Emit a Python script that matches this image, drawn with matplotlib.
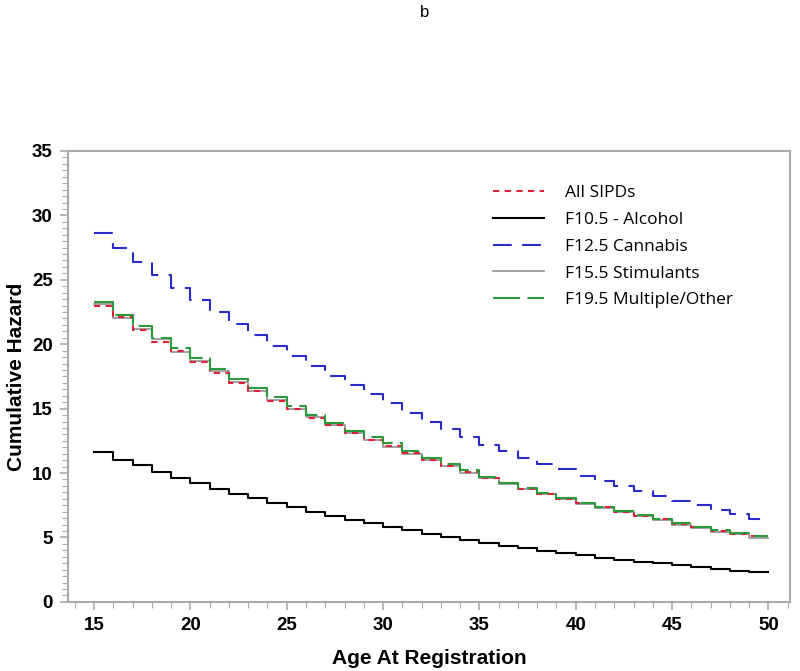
import numpy as np
import matplotlib
matplotlib.use("Agg")
from matplotlib import pyplot as plt
from matplotlib.ticker import MultipleLocator

plt.rcParams['font.family'] = ['Liberation Sans', 'DejaVu Sans']

ages = list(range(15, 51))

# cumulative hazard per year of age at registration (15..49), last value held to 50
all_sipds = [23.0, 22.1, 21.1, 20.2, 19.5, 18.6, 17.8, 17.0, 16.4, 15.6,
             14.95, 14.3, 13.7, 13.1, 12.6, 12.1, 11.55, 11.0, 10.55, 10.1,
             9.65, 9.2, 8.8, 8.4, 8.0, 7.65, 7.35, 7.0, 6.7, 6.4,
             6.05, 5.8, 5.5, 5.3, 5.1]
alcohol = [11.6, 11.0, 10.6, 10.1, 9.6, 9.2, 8.8, 8.4, 8.05, 7.65,
           7.35, 7.0, 6.7, 6.35, 6.1, 5.85, 5.6, 5.3, 5.0, 4.8,
           4.6, 4.35, 4.15, 3.97, 3.8, 3.63, 3.42, 3.27, 3.13, 2.98,
           2.85, 2.72, 2.55, 2.42, 2.3]
cannabis = [28.6, 27.5, 26.4, 25.4, 24.4, 23.4, 22.5, 21.6, 20.7, 19.9,
            19.1, 18.3, 17.5, 16.8, 16.1, 15.4, 14.7, 14.0, 13.4, 12.8,
            12.2, 11.7, 11.2, 10.7, 10.3, 9.8, 9.4, 9.0, 8.6, 8.2,
            7.8, 7.5, 7.1, 6.8, 6.45]
stimulants = [23.1, 22.0, 21.2, 20.4, 19.4, 18.7, 17.9, 17.1, 16.35, 15.7,
              15.0, 14.35, 13.7, 13.1, 12.6, 12.0, 11.5, 11.0, 10.55, 10.0,
              9.6, 9.15, 8.75, 8.35, 7.95, 7.6, 7.3, 6.95, 6.65, 6.35,
              6.0, 5.75, 5.45, 5.25, 4.95]
multiple = [23.3, 22.3, 21.4, 20.5, 19.7, 18.9, 18.1, 17.3, 16.6, 15.9,
            15.2, 14.5, 13.9, 13.3, 12.8, 12.3, 11.7, 11.2, 10.7, 10.2,
            9.7, 9.25, 8.85, 8.45, 8.05, 7.7, 7.4, 7.05, 6.75, 6.45,
            6.1, 5.85, 5.55, 5.35, 5.15]

labels = ['All SIPDs', 'F10.5 - Alcohol', 'F12.5 Cannabis',
          'F15.5 Stimulants', 'F19.5 Multiple/Other']

fig = plt.figure(figsize=(8, 6.71), dpi=100)
ax = fig.add_axes([0.085, 0.103, 0.903, 0.672])

def hold(v):
    return list(v) + [v[-1]]

ax.step(ages, hold(stimulants), where='post', color='#9a9a9a', lw=1.3, label=labels[3], zorder=2)
ax.step(ages, hold(all_sipds), where='post', color='#e0203a', lw=1.5,
        dashes=(3, 2.6), label=labels[0], zorder=3)
ax.step(ages, hold(multiple), where='post', color='#2a9a3a', lw=1.5,
        dashes=(13, 3.5), label=labels[4], zorder=4)
ax.step(ages, hold(alcohol), where='post', color='black', lw=1.5, label=labels[1], zorder=3)
ax.step(ages, hold(cannabis), where='post', color='#2a2ac8', lw=1.5,
        dashes=(9, 5), label=labels[2], zorder=3)

ax.set_xlim(13.65, 51.14)
ax.set_ylim(0, 35)
ax.xaxis.set_major_locator(MultipleLocator(5))
ax.xaxis.set_minor_locator(MultipleLocator(1))
ax.yaxis.set_major_locator(MultipleLocator(5))
ax.yaxis.set_minor_locator(MultipleLocator(0.5))
for s in ax.spines.values():
    s.set_color('#aaaaaa')
    s.set_linewidth(1.5)
ax.tick_params(which='both', direction='out', color='#aaaaaa')
ax.tick_params(which='major', length=6, width=1.2, labelsize=13.5, pad=5)
ax.tick_params(which='minor', length=4, width=0.8)
for t in ax.get_xticklabels() + ax.get_yticklabels():
    t.set_fontweight('bold')

ax.set_xlabel('Age At Registration', fontsize=15, fontweight='bold', labelpad=11)
ax.set_ylabel('Cumulative Hazard', fontsize=15, fontweight='bold', labelpad=4)

h, l = ax.get_legend_handles_labels()
order = [l.index(x) for x in labels]
ax.legend([h[i] for i in order], [l[i] for i in order], loc='upper left',
          bbox_to_anchor=(0.567, 0.96), frameon=False,
          handlelength=2.9, handletextpad=1.25, labelspacing=0.62,
          prop={'family': 'Open Sans', 'size': 12.5})

fig.text(0.531, 0.992, 'b', ha='center', va='top', fontsize=12)

fig.savefig('out.png', dpi=100)
